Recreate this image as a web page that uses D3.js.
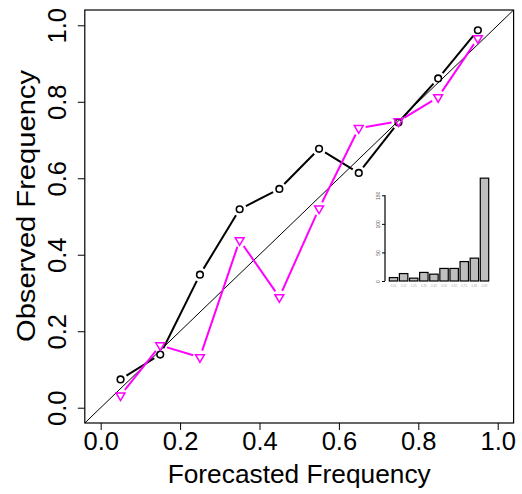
<!DOCTYPE html>
<html>
<head>
<meta charset="utf-8">
<script src="https://cdnjs.cloudflare.com/ajax/libs/d3/7.8.5/d3.min.js"></script>
<style>
  html, body { margin: 0; padding: 0; background: #ffffff; }
  svg { display: block; font-family: "Liberation Sans", Arial, Helvetica, sans-serif; }
</style>
</head>
<body>
<svg id="chart" width="522" height="494"></svg>
<script>
// ---- data ----
const forecastBins = [0.05, 0.15, 0.25, 0.35, 0.45, 0.55, 0.65, 0.75, 0.85, 0.95];
const observedBlack = [0.074, 0.139, 0.348, 0.519, 0.572, 0.677, 0.614, 0.746, 0.861, 0.987];
const observedMagenta = [0.032, 0.163, 0.132, 0.438, 0.289, 0.521, 0.731, 0.749, 0.812, 0.966];
const axisTicks = [0.0, 0.2, 0.4, 0.6, 0.8, 1.0];
const axisTickLabels = ["0.0", "0.2", "0.4", "0.6", "0.8", "1.0"];
const histCounts = [6, 13, 5, 15, 12, 22, 22, 34, 40, 180];
const histBinLabels = ["0.05", "0.15", "0.25", "0.35", "0.45", "0.55", "0.65", "0.75", "0.85", "0.95"];
const histTicks = [0, 50, 100, 150];
const xTitle = "Forecasted Frequency";
const yTitle = "Observed Frequency";

// ---- layout ----
const svg = d3.select("#chart");
const box = { left: 84.8, right: 513.6, top: 10, bottom: 423 };
const x = d3.scaleLinear().domain([-0.04, 1.04]).range([box.left, box.right]);
const y = d3.scaleLinear().domain([-0.04, 1.04]).range([box.bottom, box.top]);

svg.append("defs").append("clipPath").attr("id", "plotclip")
  .append("rect").attr("x", box.left).attr("y", box.top)
  .attr("width", box.right - box.left).attr("height", box.bottom - box.top);

// diagonal reference line
svg.append("line")
  .attr("clip-path", "url(#plotclip)")
  .attr("x1", x(-0.04)).attr("y1", y(-0.04))
  .attr("x2", x(1.04)).attr("y2", y(1.04))
  .attr("stroke", "#000").attr("stroke-width", 1);

// axes
const xAxis = d3.axisBottom(x).tickValues(axisTicks).tickFormat((d, i) => axisTickLabels[i]).tickSize(7);
const gx = svg.append("g").attr("transform", `translate(0,${box.bottom})`).call(xAxis);
gx.select(".domain").remove();
gx.selectAll(".tick line").attr("stroke", "#000").attr("stroke-width", 1);
gx.selectAll(".tick text").attr("font-size", 25.5).attr("fill", "#000")
  .attr("font-family", "'Liberation Sans', Arial, Helvetica, sans-serif")
  .attr("dy", null).attr("y", 27);

const yAxis = d3.axisLeft(y).tickValues(axisTicks).tickFormat((d, i) => axisTickLabels[i]).tickSize(7);
const gy = svg.append("g").attr("transform", `translate(${box.left},0)`).call(yAxis);
gy.select(".domain").remove();
gy.selectAll(".tick line").attr("stroke", "#000").attr("stroke-width", 1);
gy.selectAll(".tick text").attr("font-size", 25.5).attr("fill", "#000")
  .attr("font-family", "'Liberation Sans', Arial, Helvetica, sans-serif")
  .attr("x", null).attr("dy", null)
  .attr("text-anchor", "middle")
  .attr("transform", "translate(-19,0) rotate(-90)");

// box
svg.append("rect")
  .attr("x", box.left).attr("y", box.top)
  .attr("width", box.right - box.left).attr("height", box.bottom - box.top)
  .attr("fill", "none").attr("stroke", "#000").attr("stroke-width", 1.2);

// titles
svg.append("text")
  .attr("x", (box.left + box.right) / 2).attr("y", 483)
  .attr("text-anchor", "middle").attr("font-size", 26).attr("fill", "#000")
  .attr("textLength", 263).attr("lengthAdjust", "spacingAndGlyphs")
  .text(xTitle);
svg.append("text")
  .attr("transform", `translate(35,206) rotate(-90)`)
  .attr("text-anchor", "middle").attr("font-size", 26).attr("fill", "#000")
  .attr("textLength", 272).attr("lengthAdjust", "spacingAndGlyphs")
  .text(yTitle);

// type="b" style series: segments with gaps around points
function drawSeries(vals, color, gap) {
  const pts = forecastBins.map((f, i) => [x(f), y(vals[i])]);
  const segs = [];
  for (let i = 0; i < pts.length - 1; i++) {
    const [x1, y1] = pts[i], [x2, y2] = pts[i + 1];
    const len = Math.hypot(x2 - x1, y2 - y1);
    if (len <= 2 * gap) continue;
    const ux = (x2 - x1) / len, uy = (y2 - y1) / len;
    segs.push([x1 + ux * gap, y1 + uy * gap, x2 - ux * gap, y2 - uy * gap]);
  }
  svg.append("g").selectAll("line").data(segs).join("line")
    .attr("x1", d => d[0]).attr("y1", d => d[1])
    .attr("x2", d => d[2]).attr("y2", d => d[3])
    .attr("stroke", color).attr("stroke-width", 2);
  return pts;
}

const blackPts = drawSeries(observedBlack, "#000000", 7);
svg.append("g").selectAll("circle").data(blackPts).join("circle")
  .attr("cx", d => d[0]).attr("cy", d => d[1]).attr("r", 3.3)
  .attr("fill", "none").attr("stroke", "#000").attr("stroke-width", 1.6);

const magPts = drawSeries(observedMagenta, "#ff00ff", 7);
const tri = d3.symbol().type(d3.symbolTriangle).size(34);
svg.append("g").selectAll("path").data(magPts).join("path")
  .attr("transform", d => `translate(${d[0]},${d[1]}) rotate(180)`)
  .attr("d", tri)
  .attr("fill", "none").attr("stroke", "#ff00ff").attr("stroke-width", 1.5);

// ---- inset histogram ----
const hx = d3.scaleBand().domain(histBinLabels).range([389.3, 488.7]).paddingInner(0.1667).paddingOuter(0);
const hy = d3.scaleLinear().domain([0, 150]).range([281, 195.3]);
const inset = svg.append("g");
inset.selectAll("rect").data(histCounts).join("rect")
  .attr("x", (d, i) => hx(histBinLabels[i]))
  .attr("y", d => hy(d))
  .attr("width", hx.bandwidth())
  .attr("height", d => hy(0) - hy(d))
  .attr("fill", "#bebebe").attr("stroke", "#000").attr("stroke-width", 1.2);

const hAxis = d3.axisLeft(hy).tickValues(histTicks).tickSize(3).tickFormat(d3.format("d"));
const ghy = inset.append("g").attr("transform", "translate(385,0)").call(hAxis);
ghy.select(".domain").attr("stroke", "#000").attr("stroke-width", 1.2).attr("d", `M0,${hy(0)}V${hy(150)}`);
ghy.selectAll(".tick line").attr("stroke", "#000");
ghy.selectAll(".tick text").attr("font-size", 5).attr("fill", "#555")
  .attr("font-family", "'Liberation Sans', Arial, sans-serif")
  .attr("x", null).attr("dy", null).attr("text-anchor", "middle")
  .attr("transform", "translate(-5,0) rotate(-90)");

inset.append("g").selectAll("text").data(histBinLabels).join("text")
  .attr("x", d => hx(d) + hx.bandwidth() / 2)
  .attr("y", 287)
  .attr("text-anchor", "middle")
  .attr("font-size", 3).attr("fill", "#aaa")
  .text(d => d);
</script>
</body>
</html>
